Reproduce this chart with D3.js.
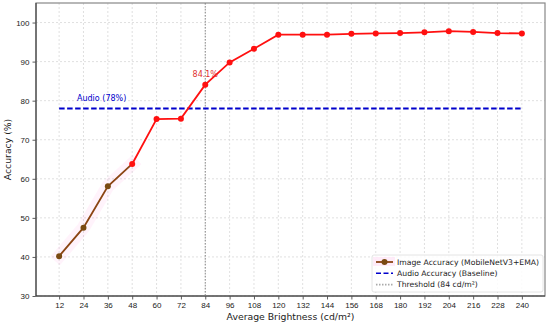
<!DOCTYPE html>
<html>
<head>
<meta charset="utf-8">
<script src="https://cdn.jsdelivr.net/npm/d3@7"></script>
<style>
  body { margin: 0; background: #fff; }
  svg { font-family: "DejaVu Sans", sans-serif; }
  .tick text { font-size: 8px; fill: #222; }
</style>
</head>
<body>
<svg width="550" height="325"></svg>
<script>
(function (d3) {
  'use strict';

  // values
  const brightness = [12, 24, 36, 48, 60, 72, 84, 96, 108, 120, 132, 144, 156, 168, 180, 192, 204, 216, 228, 240];
  const imageAcc = [40.2, 47.5, 58.1, 63.8, 75.3, 75.4, 84.1, 89.8, 93.3, 96.9, 96.9, 96.9, 97.1, 97.2, 97.3, 97.5, 97.8, 97.6, 97.3, 97.2];
  const audioAcc = 78;
  const threshold = 84;
  const yTicks = [30, 40, 50, 60, 70, 80, 90, 100];
  const lowCount = 4; // first points drawn in brown

  const svg = d3.select('svg');
  const margin = { top: 3, right: 5, bottom: 29, left: 36 };
  const width = +svg.attr('width');
  const height = +svg.attr('height');
  const innerWidth = width - margin.left - margin.right;
  const innerHeight = height - margin.top - margin.bottom;

  const xScale = d3.scaleLinear().domain([0.6, 251.4]).range([0, innerWidth]);
  const yScale = d3.scaleLinear().domain([30, 105]).range([innerHeight, 0]);

  const g = svg.append('g').attr('transform', `translate(${margin.left},${margin.top})`);

  // grid
  g.append('g').selectAll('line').data(brightness).enter().append('line')
    .attr('x1', d => xScale(d)).attr('x2', d => xScale(d))
    .attr('y1', 0).attr('y2', innerHeight)
    .attr('stroke', '#d8d8d8').attr('stroke-width', 0.8).attr('stroke-dasharray', '2,2');
  g.append('g').selectAll('line').data(yTicks).enter().append('line')
    .attr('y1', d => yScale(d)).attr('y2', d => yScale(d))
    .attr('x1', 0).attr('x2', innerWidth)
    .attr('stroke', '#d8d8d8').attr('stroke-width', 0.8).attr('stroke-dasharray', '2,2');

  // axes
  const xAxis = d3.axisBottom(xScale).tickValues(brightness).tickSize(3.5).tickPadding(3);
  const yAxis = d3.axisLeft(yScale).tickValues(yTicks).tickSize(3.5).tickPadding(3);
  const xAxisG = g.append('g').attr('transform', `translate(0,${innerHeight})`).call(xAxis);
  const yAxisG = g.append('g').call(yAxis);
  [xAxisG, yAxisG].forEach(a => {
    a.select('.domain').remove();
    a.selectAll('.tick line').attr('stroke', '#333').attr('stroke-width', 0.8);
  });

  // spines
  g.append('rect').attr('width', innerWidth).attr('height', innerHeight)
    .attr('fill', 'none').attr('stroke', '#888').attr('stroke-width', 1.2);
  g.append('line').attr('x1', 0).attr('x2', 0).attr('y1', 0).attr('y2', innerHeight)
    .attr('stroke', '#333').attr('stroke-width', 1);
  g.append('line').attr('x1', 0).attr('x2', innerWidth).attr('y1', innerHeight).attr('y2', innerHeight)
    .attr('stroke', '#333').attr('stroke-width', 1);

  // threshold
  g.append('line')
    .attr('x1', xScale(threshold)).attr('x2', xScale(threshold))
    .attr('y1', 0).attr('y2', innerHeight)
    .attr('stroke', '#888').attr('stroke-width', 1).attr('stroke-dasharray', '1.5,1.5');

  // audio baseline
  g.append('line')
    .attr('x1', xScale(brightness[0])).attr('x2', xScale(brightness[brightness.length - 1]))
    .attr('y1', yScale(audioAcc)).attr('y2', yScale(audioAcc))
    .attr('stroke', '#0000cc').attr('stroke-width', 1.8).attr('stroke-dasharray', '5.5,2.5');
  g.append('text')
    .attr('x', xScale(20.8)).attr('y', yScale(audioAcc + 2))
    .attr('fill', '#0000cc').attr('font-size', 8)
    .text(`Audio (${audioAcc}%)`);

  const pts = brightness.map((b, i) => ({ x: b, y: imageAcc[i] }));
  const line = d3.line().x(d => xScale(d.x)).y(d => yScale(d.y));
  const low = pts.slice(0, lowCount);
  const high = pts.slice(lowCount - 1);

  // faint pink glow on the low part
  g.append('path').datum(low).attr('d', line)
    .attr('fill', 'none').attr('stroke', '#ff66cc').attr('stroke-opacity', 0.08)
    .attr('stroke-width', 13).attr('stroke-linecap', 'square');

  g.append('path').datum(high).attr('d', line)
    .attr('fill', 'none').attr('stroke', '#ff1010').attr('stroke-width', 1.8);
  g.append('path').datum(low).attr('d', line)
    .attr('fill', 'none').attr('stroke', '#8b4513').attr('stroke-width', 1.8);

  g.append('g').selectAll('circle').data(pts).enter().append('circle')
    .attr('cx', d => xScale(d.x)).attr('cy', d => yScale(d.y)).attr('r', 3)
    .attr('fill', (d, i) => i < lowCount - 1 ? '#7a4a12' : '#ff1010');

  // annotation
  const thr = pts.find(d => d.x === threshold);
  g.append('text')
    .attr('x', xScale(thr.x)).attr('y', yScale(thr.y + 2))
    .attr('text-anchor', 'middle').attr('fill', '#e03030').attr('font-size', 8)
    .text(`${thr.y}%`);

  // axis labels
  svg.append('text')
    .attr('x', margin.left + xScale(126)).attr('y', 320)
    .attr('text-anchor', 'middle').attr('font-size', 9.3).attr('fill', '#222')
    .text('Average Brightness (cd/m²)');
  svg.append('text')
    .attr('transform', `translate(11,${margin.top + innerHeight / 2}) rotate(-90)`)
    .attr('text-anchor', 'middle').attr('font-size', 9.3).attr('fill', '#222')
    .text('Accuracy (%)');

  // legend
  const legend = g.append('g').attr('transform', `translate(${innerWidth - 173},${innerHeight - 41})`);
  legend.append('rect').attr('width', 171).attr('height', 37).attr('rx', 2)
    .attr('fill', '#fff').attr('fill-opacity', 0.85).attr('stroke', '#ddd').attr('stroke-width', 0.8);
  legend.append('rect').attr('x', 1).attr('y', 2).attr('width', 22).attr('height', 9)
    .attr('fill', '#ff66cc').attr('fill-opacity', 0.12);
  const items = [
    { label: 'Image Accuracy (MobileNetV3+EMA)', color: '#8b4513', dash: null, marker: true },
    { label: 'Audio Accuracy (Baseline)', color: '#0000cc', dash: '5,2.5', marker: false },
    { label: `Threshold (${threshold} cd/m²)`, color: '#aaa', dash: '1.5,1.5', marker: false }
  ];
  const row = legend.selectAll('.item').data(items).enter().append('g')
    .attr('transform', (d, i) => `translate(4,${7 + i * 11.3})`);
  row.append('line').attr('x1', 0).attr('x2', 17)
    .attr('stroke', d => d.color).attr('stroke-width', d => d.marker ? 1.8 : 1.6)
    .attr('stroke-dasharray', d => d.dash);
  row.filter(d => d.marker).append('circle').attr('cx', 8.5).attr('r', 3).attr('fill', '#7a4a12');
  row.append('text').attr('x', 21).attr('dy', '0.35em')
    .attr('font-size', 7.7).attr('fill', '#222').text(d => d.label);

}(d3));
</script>
</body>
</html>
